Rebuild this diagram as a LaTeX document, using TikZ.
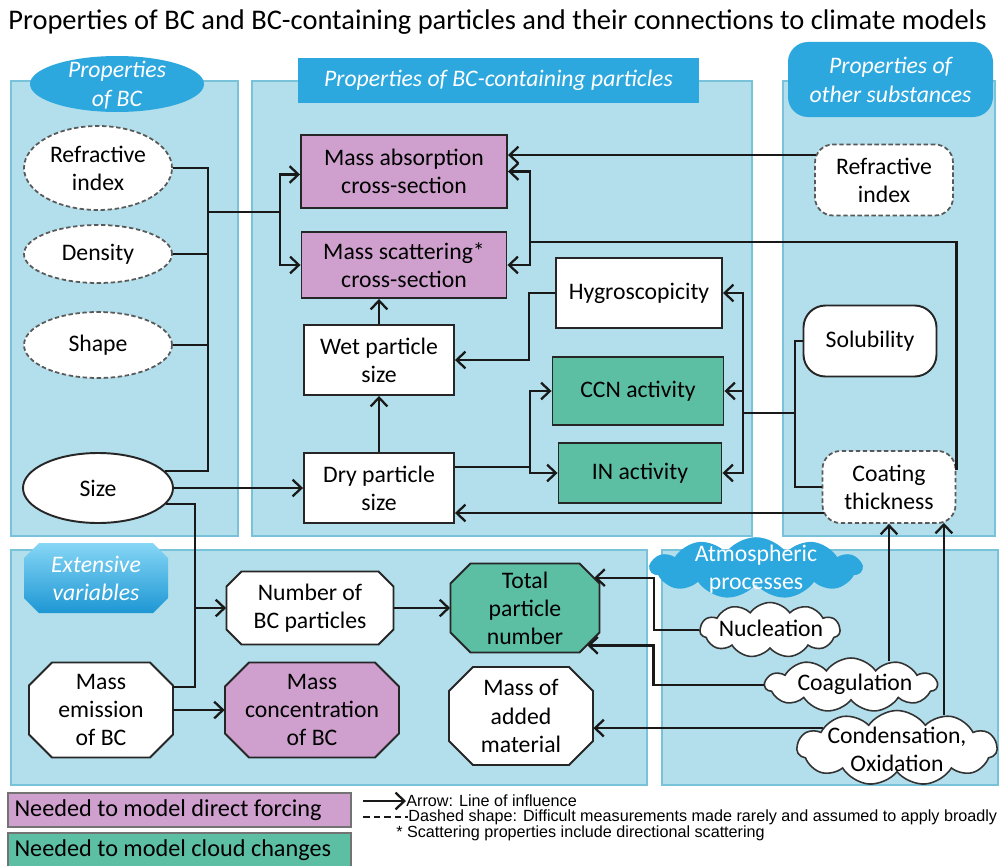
\documentclass[tikz,border=0pt]{standalone}
\usepackage{fontspec}
\setmainfont{Carlito}
\newfontfamily\arialfont{Liberation Sans}
\usetikzlibrary{shapes.geometric,shapes.symbols,arrows.meta,calc}

\definecolor{panelblue}{HTML}{B2DFEB}
\definecolor{paneledge}{HTML}{78C2DA}
\definecolor{headblue}{HTML}{2DA8DF}
\definecolor{extlight}{HTML}{86D6F5}
\definecolor{extdark}{HTML}{1D97D4}
\definecolor{forcepink}{HTML}{CFA0CE}
\definecolor{cloudgreen}{HTML}{5CBFA4}

\tikzset{
  wh/.style 2 args={minimum width={#1*0.02cm}, minimum height={#2*0.02cm}},
  panel/.style={fill=panelblue, draw=paneledge, line width=0.8pt},
  nodefont/.style={font=\fontsize{13.5}{16}\selectfont, align=center},
  headtext/.style={text=white, font=\fontsize{13.5}{16.5}\selectfont\itshape, align=center, inner sep=0pt},
  boxnode/.style={nodefont, draw=black!85, line width=1.1pt, inner sep=0pt},
  dashnode/.style={nodefont, fill=white, draw=black!65, line width=1pt, dash pattern=on 2.5pt off 1.5pt, inner sep=0pt},
  puffy/.style={cloud, cloud puffs=11, cloud puff arc=110, cloud ignores aspect, fill=white, draw=black!80, line width=0.9pt, inner sep=0pt},
  conn/.style={line width=1.3pt, black!90},
  arr/.style={conn, -{Straight Barb[length=5pt,width=9.5pt]}},
  legbox/.style={draw=black!55, line width=0.8pt, font=\fontsize{13.8}{17}\selectfont, inner xsep=0.13cm, inner ysep=0pt, minimum height=0.68cm},
  keytext/.style={anchor=west, inner sep=0pt, font=\arialfont\fontsize{9.2}{11}\selectfont}
}

% octagon: name, x, y, width, height, chamfer, [path options], [node options], text
\NewDocumentCommand{\octnode}{mmmmmmO{fill=white}O{}m}{%
\begin{scope}[shift={(#2,#3)}]%
\path[draw=black!85, line width=1.1pt, #7] (-#4/2+#6,-#5/2) -- (#4/2-#6,-#5/2) -- (#4/2,-#5/2+#6) -- (#4/2,#5/2-#6) -- (#4/2-#6,#5/2) -- (-#4/2+#6,#5/2) -- (-#4/2,#5/2-#6) -- (-#4/2,-#5/2+#6) -- cycle;%
\node[nodefont, wh={#4}{#5}, inner sep=0pt, #8] (#1) at (0,0) {#9};%
\end{scope}%
}

\begin{document}
\begin{tikzpicture}[x=0.02cm, y=-0.02cm]
\useasboundingbox (0,0) rectangle (1000,865);
\fill[white] (0,0) rectangle (1000,865);

\node[anchor=west, inner sep=0pt, font=\fontsize{16.2}{19}\selectfont] (title) at (8,22) {Properties of BC and BC-containing particles and their connections to climate models};

% panels
\draw[panel] (11,81) rectangle (238,536);
\draw[panel] (252,81) rectangle (752,536);
\draw[panel] (783,81) rectangle (995,536);
\draw[panel] (11,550) rectangle (647,785);
\draw[panel] (662,550) rectangle (998,785);

\fill[headblue] (117,84) ellipse [x radius=87, y radius=28];
\node[headtext] (headBC) at (117,85) {Properties\\of BC};
\node[headtext, fill=headblue, wh={401}{45}] (headPart) at (498.5,80.5) {Properties of BC-containing particles};
\node[headtext, fill=headblue, rounded corners=0.4cm, wh={205}{75}] (headOther) at (890.5,79.5) {Properties of\\other substances};

% properties of BC
\node[dashnode, ellipse, wh={148}{84}] (refBC) at (98,168) {Refractive\\index};
\node[dashnode, ellipse, wh={148}{58}] (dens) at (98,254) {Density};
\node[dashnode, ellipse, wh={148}{66}] (shape) at (98,345) {Shape};
\node[boxnode, ellipse, fill=white, wh={150}{70}] (size) at (98,488) {Size};

% particle properties
\node[boxnode, fill=forcepink, wh={206}{73}] (mabs) at (404,171.5) {Mass absorption\\cross-section};
\node[boxnode, fill=forcepink, wh={205}{66}] (mscat) at (404,265) {Mass scattering*\\cross-section};
\node[boxnode, fill=white, wh={150}{70}] (wet) at (379,360) {Wet particle\\size};
\node[boxnode, fill=white, wh={150}{70}] (dry) at (379,488) {Dry particle\\size};
\node[boxnode, fill=white, wh={166}{70}] (hyg) at (639,293) {Hygroscopicity};
\node[boxnode, fill=cloudgreen, wh={171}{68}] (ccn) at (638,391) {CCN activity};
\node[boxnode, fill=cloudgreen, wh={163}{60}] (inact) at (640,473) {IN activity};

% other substances
\node[dashnode, rounded corners=0.36cm, wh={138}{71}] (refOth) at (884,180) {Refractive\\index};
\node[boxnode, fill=white, rounded corners=0.44cm, wh={133}{71}] (sol) at (870,341) {Solubility};
\node[dashnode, rounded corners=0.36cm, wh={133}{72}] (coat) at (889,487) {Coating\\thickness};

% extensive variables
\octnode{extv}{96}{578}{144}{70}{15}[top color=extlight, bottom color=extdark, draw=none][text=white, font=\fontsize{13.5}{16}\selectfont\itshape]{Extensive\\variables}
\octnode{numbc}{310}{608}{167}{73}{15}{Number of\\BC particles}
\octnode{memis}{101}{710}{144}{95}{23}{Mass\\emission\\of BC}
\octnode{mconc}{312}{710}{174}{95}{24}[fill=forcepink]{Mass\\concentration\\of BC}
\octnode{total}{525}{608}{149}{89}{20}[fill=cloudgreen]{Total\\particle\\number}
\octnode{madd}{521}{716}{144}{98}{24}{Mass of\\added\\material}

% atmospheric processes
\node[puffy, fill=headblue, draw=headblue, wh={210}{60}] (atm) at (756,568) {};
\node[nodefont, text=white, inner sep=0pt] (atmTxt) at (756,569) {Atmospheric\\processes};
\node[puffy, wh={140}{55}] (nuc) at (770,630) {};
\node[nodefont, inner sep=0pt] (nucTxt) at (771,628) {Nucleation};
\node[puffy, wh={172}{54}] (coag) at (851,685) {};
\node[nodefont, inner sep=0pt] (coagTxt) at (855,684) {Coagulation};
\node[puffy, wh={200}{75}] (cond) at (897,748) {};
\node[nodefont, inner sep=0pt] (condTxt) at (897,749) {Condensation,\\Oxidation};

% BC properties to optics
\coordinate (busL) at (208,212);
\coordinate (busM) at (280,212);
\draw[conn] (refBC.east) -| (busL);
\draw[conn] (size.14) -| (busL);
\draw[conn] (dens.east) -- (dens.east -| busL);
\draw[conn] (shape.east) -- (shape.east -| busL);
\draw[conn] (busL) -- (busM);
\draw[arr] (busM) |- ($(mabs.west)+(0,3)$);
\draw[arr] (busM) |- (mscat.west);
\draw[arr] (size.east) -- (dry.west);

% sizes
\draw[arr] (wet.north) -- (wet.north |- mscat.south);
\draw[arr] (dry.north) -- (wet.south);
\draw[arr] (hyg.west) -- ++(-26,0) |- (wet.east);
\coordinate (dOut) at ($(dry.east)+(0,-21)$);
\coordinate (dbus) at (530,467);
\draw[conn] (dOut) -- (dbus);
\draw[arr] (dbus) |- (ccn.west);
\draw[arr] (dbus) |- (inact.west);

% other substances
\coordinate (refIn) at ($(refOth.west)+(2,-25)$);
\draw[arr] (refIn) -- (refIn -| mabs.east);
\coordinate (busR) at (530,242);
\draw[conn] ($(coat.east)+(0,-17)$) |- (busR);
\draw[arr] (busR) |- (mabs.east);
\draw[arr] (busR) |- (mscat.east);
\coordinate (sbus) at (795,413);
\coordinate (hbus) at (743,413);
\draw[conn] (sol.west) -| (sbus);
\draw[conn] (coat.west) -| (sbus);
\draw[conn] (sbus) -- (hbus);
\draw[arr] (hbus) |- (hyg.east);
\draw[arr] (hbus) |- (ccn.east);
\draw[arr] (hbus) |- (inact.east);
\coordinate (coatSW) at ($(coat.west)+(2,26)$);
\draw[arr] (coatSW) -- (coatSW -| dry.east);

% extensive variables
\coordinate (jnum) at (195,608);
\draw[arr] (size.-13) -| (jnum) -- (numbc.west);
\draw[conn] ($(memis.east)+(0,-23)$) -| (jnum);
\draw[arr] (memis.east) -- (mconc.west);
\draw[arr] (numbc.east) -- (total.west);

% atmospheric processes
\coordinate (totNE) at ($(total.north east)+(-5.5,14.5)$);
\coordinate (totSE) at ($(total.south east)+(-12.5,-7.5)$);
\draw[arr] (nuc.west) -- ++(-45,0) |- (totNE);
\draw[arr] (coag.west) -- ++(-110,0) |- (totSE);
\draw[arr] (cond.165) -- (cond.165 -| madd.east);
\draw[arr] ($(coat.south |- coag.north)+(0,4)$) -- (coat.south);
\coordinate (coatBR) at ($(coat.south east)+(-12.5,-1)$);
\draw[arr] ($(coatBR |- cond.north)+(0,5)$) -- (coatBR);

% legend
\node[legbox, fill=forcepink] (legDirect) at (179.5,810) {\makebox[6.6cm][l]{Needed to model direct forcing}};
\node[legbox, fill=cloudgreen] (legCloud) at (179.5,850) {\makebox[6.6cm][l]{Needed to model cloud changes}};
\coordinate (keyArrow) at (363,801);
\node[keytext] (keyArrowTxt) at (406,801) {Arrow: Line of influence};
\draw[arr] (keyArrow) -- (keyArrowTxt.west);
\coordinate (keyDash) at (363,817);
\node[keytext] (keyDashTxt) at (408,817) {Dashed shape: Difficult measurements made rarely and assumed to apply broadly};
\draw[conn, dash pattern=on 3.8pt off 2.2pt] (keyDash) -- (keyDashTxt.west);
\node[keytext] (keyStar) at (396,833) {* Scattering properties include directional scattering};
\end{tikzpicture}
\end{document}
